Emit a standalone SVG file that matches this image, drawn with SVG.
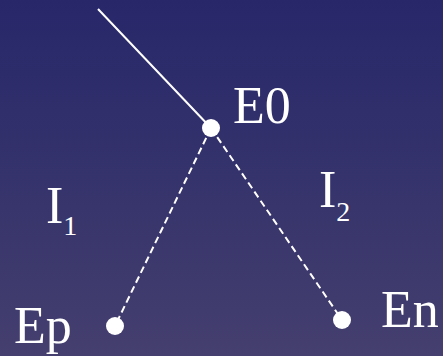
<svg xmlns="http://www.w3.org/2000/svg" width="443" height="356" viewBox="0 0 443 356">
<defs>
<linearGradient id="bg" x1="0" y1="0" x2="0" y2="1">
<stop offset="0" stop-color="#27276a"/>
<stop offset="1" stop-color="#443f6e"/>
</linearGradient>
<style>
.lbl{font-family:"Liberation Serif","Times New Roman",serif;fill:#fff;font-size:52px}
.sub{font-size:28px}
.dash{stroke:#fff;stroke-width:2;stroke-dasharray:7 4;fill:none}
.dot{fill:#fff}
</style>
</defs>
<rect width="443" height="356" fill="url(#bg)"/>
<g id="connectors">
<line x1="98" y1="9" x2="211" y2="128" stroke="#fff" stroke-width="2"/>
<line class="dash" x1="211" y1="128" x2="115" y2="326"/>
<line class="dash" x1="211" y1="128" x2="342" y2="320"/>
</g>
<g id="E0"><circle class="dot" cx="211" cy="128" r="9"/><text class="lbl" x="233" y="123">E0</text></g>
<g id="Ep"><circle class="dot" cx="115" cy="326" r="9"/><text class="lbl" x="14" y="343">Ep</text></g>
<g id="En"><circle class="dot" cx="342" cy="320" r="9"/><text class="lbl" x="381" y="327">En</text></g>
<g id="I1"><text class="lbl" x="46" y="223">I<tspan class="sub" dy="12">1</tspan></text></g>
<g id="I2"><text class="lbl" x="319" y="207">I<tspan class="sub" dy="14">2</tspan></text></g>
</svg>
